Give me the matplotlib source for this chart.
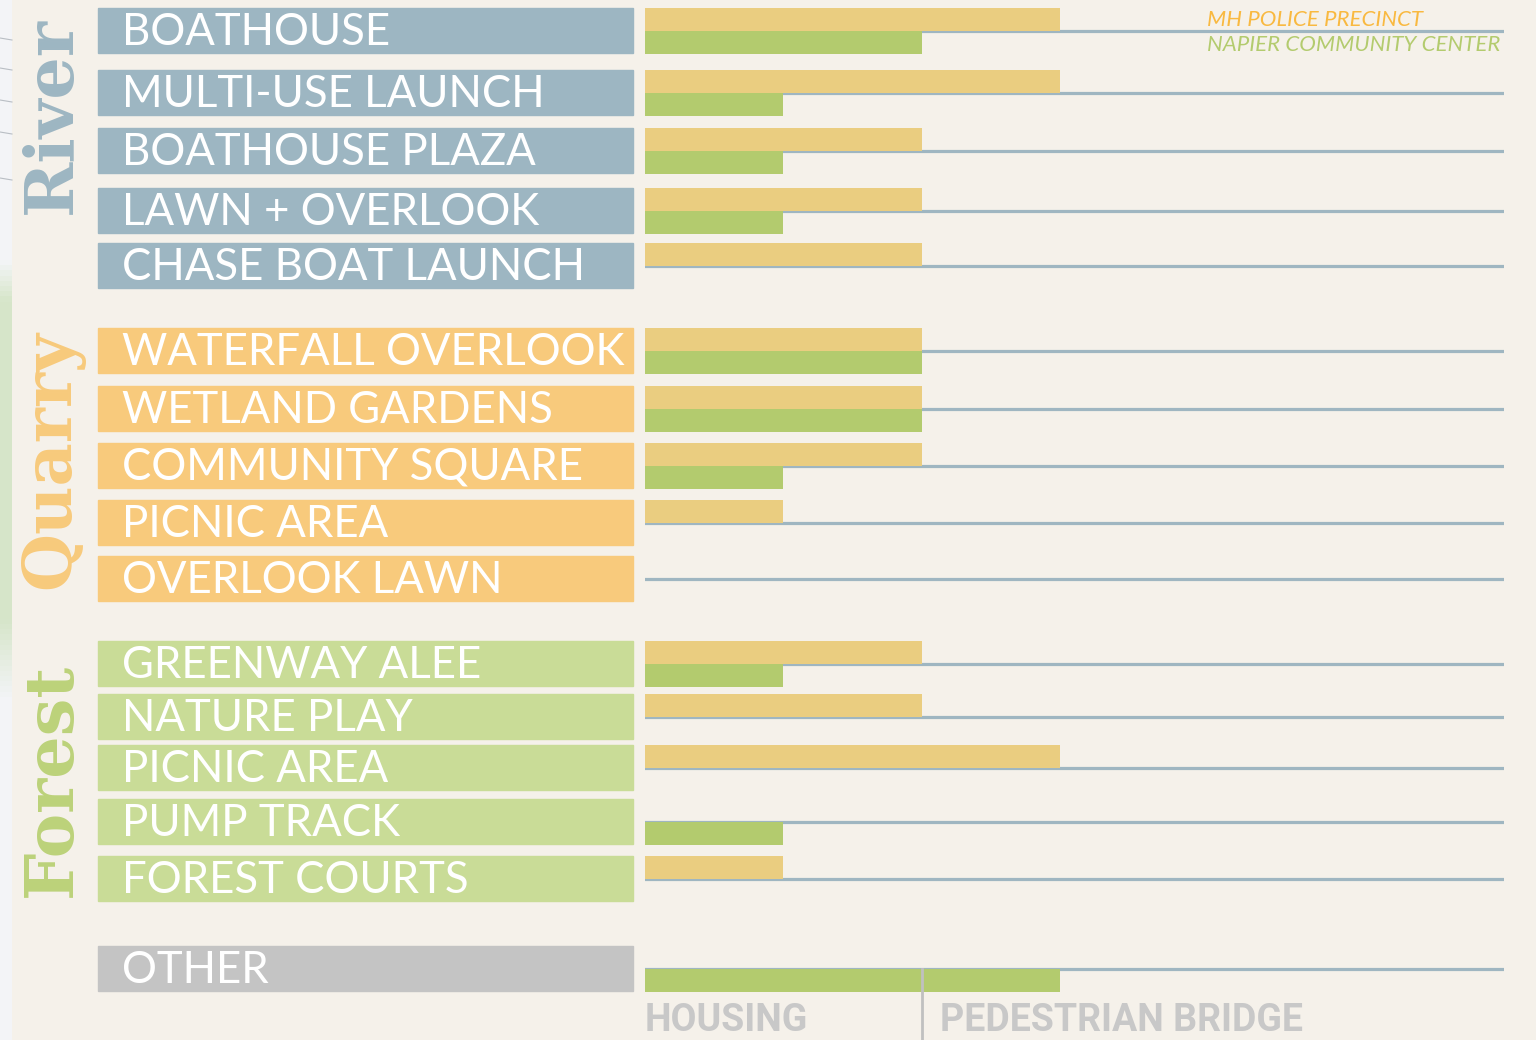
"""
plot.py
=======

Park programme chart: each amenity gets a coloured label box and a pair of
bars (MH Police Precinct vs Napier Community Center). Saved to out.png.
"""

import matplotlib

matplotlib.use("Agg")
import matplotlib.pyplot as plt
import numpy as np
from matplotlib.patches import Rectangle

# ---------------------------------------------------------------
# Data
# ---------------------------------------------------------------
groups = ["River", "Quarry", "Forest", "Other"]
labels = [
    "BOATHOUSE", "MULTI-USE LAUNCH", "BOATHOUSE PLAZA", "LAWN + OVERLOOK",
    "CHASE BOAT LAUNCH",
    "WATERFALL OVERLOOK", "WETLAND GARDENS", "COMMUNITY SQUARE", "PICNIC AREA",
    "OVERLOOK LAWN",
    "GREENWAY ALEE", "NATURE PLAY", "PICNIC AREA", "PUMP TRACK", "FOREST COURTS",
    "OTHER",
]
row_group = [0] * 5 + [1] * 5 + [2] * 5 + [3]
police = [3, 3, 2, 2, 2, 2, 2, 2, 1, 0, 2, 2, 3, 0, 1, 0]
napier = [2, 1, 1, 1, 0, 2, 2, 1, 0, 0, 1, 0, 0, 1, 0, 3]
series_names = ["MH POLICE PRECINCT", "NAPIER COMMUNITY CENTER"]
axis_labels = ["HOUSING", "PEDESTRIAN BRIDGE"]

# ---------------------------------------------------------------
# Layout / style (pixel coordinates, figure is 1536 x 1040)
# ---------------------------------------------------------------
W, H = 1536, 1040
BG = "#F5F1EA"
box_top = [8, 70, 128, 188, 243, 328, 386, 443, 500, 556,
           641, 694, 745, 799, 856, 946]
BOX_H = 45
group_colors = ["#9DB6C2", "#F8CA7C", "#C9DC97", "#C4C4C4"]
group_text_colors = ["#9DB6C2", "#F8CA7C", "#BCD27A"]
group_text_y = [115, 460, 780]
YELLOW = "#EACD80"
GREEN = "#B3CB6E"
LINE = "#9FB6C1"
BAR_X0, BAR_X1 = 645, 1504
UNIT = 138.3

fig = plt.figure(figsize=(W / 100, H / 100), dpi=100, facecolor=BG)
ax = fig.add_axes([0, 0, 1, 1])
ax.set_xlim(0, W)
ax.set_ylim(H, 0)
ax.axis("off")
ax.set_facecolor(BG)

# faded photo strip on the far left (whitish, green band in the middle)
rows = np.linspace(0, H, 200)
green_amt = np.clip((rows - 260) / 40, 0, 1) * np.clip((700 - rows) / 80, 0, 1)
base = np.array([0.955, 0.96, 0.97])
leaf = np.array([0.84, 0.90, 0.79])
strip = base[None, :] * (1 - green_amt[:, None]) + leaf[None, :] * green_amt[:, None]
ax.imshow(strip[:, None, :], extent=(0, 12, H, 0), aspect="auto", zorder=1)
for yy in [38, 68, 100, 132, 178]:
    ax.plot([0, 12], [yy, yy + 2], color="#B9BEC4", lw=0.8, zorder=1)

# group titles
for name, col, yc in zip(groups[:3], group_text_colors, group_text_y):
    ax.text(52, yc, name, rotation=90, ha="center", va="center",
            color=col, fontsize=48, fontweight="bold",
            family="DejaVu Serif", zorder=3)

# label boxes
for lab, g, top in zip(labels, row_group, box_top):
    ax.add_patch(Rectangle((98, top), 535, BOX_H, color=group_colors[g], zorder=2))
    ax.text(122, top + BOX_H / 2 + 2, lab, ha="left", va="center",
            color="white", fontsize=31.5, family="Lato", zorder=3)

# bars
bx = fig.add_axes([BAR_X0 / W, 0, (BAR_X1 - BAR_X0) / W, 1])
bx.set_xlim(0, (BAR_X1 - BAR_X0) / UNIT)
bx.set_ylim(H, 0)
bx.axis("off")
bx.patch.set_alpha(0)

centers = [t + 22.5 for t in box_top]
for yc, p, n in zip(centers, police, napier):
    bx.axhline(yc, color=LINE, lw=2.3, zorder=1)
    bx.barh(yc - 22.5, p, height=22.5, align="edge", color=YELLOW, zorder=2)
    bx.barh(yc, n, height=23, align="edge", color=GREEN, zorder=2)

# divider between the two bottom categories
bx.plot([2, 2], [centers[-1], H], color="#C0C0C0", lw=2, zorder=3)

# legend
ax.text(1207, 20, series_names[0], ha="left", va="center", color="#F9B940",
        fontsize=16, style="italic", family="Lato", zorder=3)
ax.text(1207, 45, series_names[1], ha="left", va="center", color=GREEN,
        fontsize=16, style="italic", family="Lato", zorder=3)

# bottom axis labels along the lower edge
ax.text(645, 1039, axis_labels[0], ha="left", va="bottom", color="#C8C8C8",
        fontsize=27, fontweight="bold", family="Roboto", zorder=3)
ax.text(940, 1039, axis_labels[1], ha="left", va="bottom", color="#C8C8C8",
        fontsize=27, fontweight="bold", family="Roboto", zorder=3)

fig.savefig("out.png", dpi=100, facecolor=BG)
